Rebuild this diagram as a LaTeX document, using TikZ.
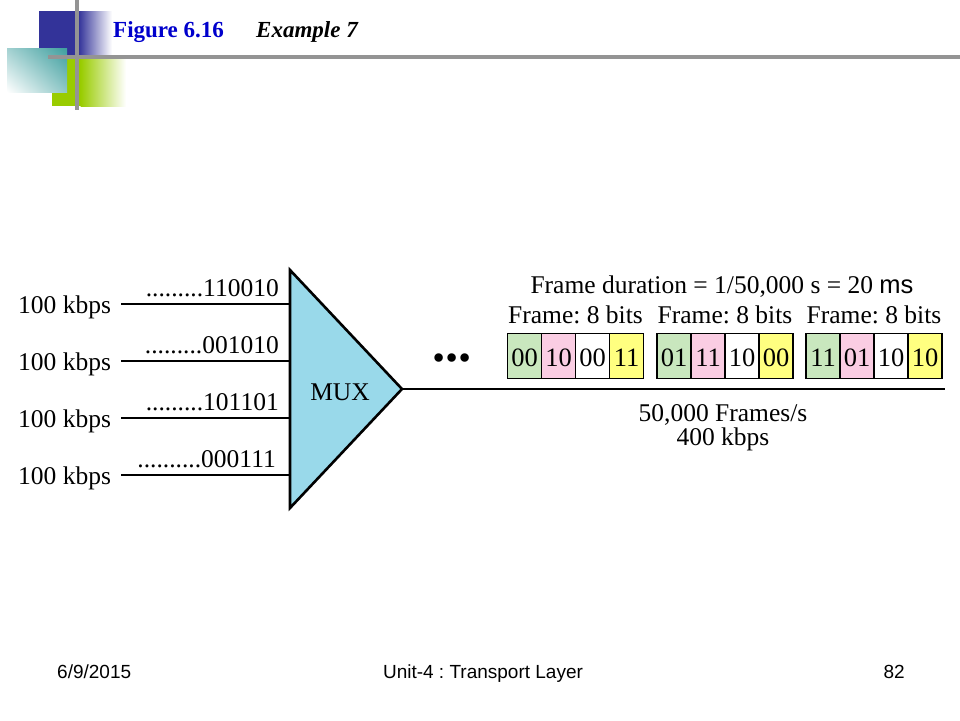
\documentclass[tikz,border=0pt]{standalone}
\usepackage{fontspec}
\usetikzlibrary{shadings}
\setmainfont{Liberation Serif}
\newfontfamily\arialf{Liberation Sans}
\definecolor{deco blue}{HTML}{333399}
\definecolor{deco green}{HTML}{99CC00}
\definecolor{deco teal}{HTML}{339999}
\definecolor{mux blue}{HTML}{99D9EA}
\definecolor{cell green}{HTML}{C9E7BE}
\definecolor{cell pink}{HTML}{FACDE3}
\definecolor{cell yellow}{HTML}{FFFF80}
\definecolor{title blue}{HTML}{0000CC}
\def\dnine{.........}
\def\dten{..........}
\frenchspacing
\begin{document}
\begin{tikzpicture}[x=1pt,y=-1pt,
  lbl/.style={inner sep=0pt,font=\fontsize{25.5}{30}\selectfont},
  wire/.style={line width=2.6pt},
  cellbox/.style={draw,line width=1.3pt,minimum width=34pt,minimum height=45pt,
    inner sep=0pt,text height=21pt,text depth=0pt,font=\fontsize{26.5}{30}\selectfont},
  foot/.style={inner sep=0pt,font=\arialf\fontsize{19}{22}\selectfont},
  decoline/.style={line width=3.5pt,color=black!42}]
\useasboundingbox (0,0) rectangle (960,720);
\fill[white] (0,0) rectangle (960,720);
% ---- decoration top-left ----
\fill[deco blue] (39,11) rectangle (79,55);
\shade[left color=deco blue,right color=white] (78.5,11) rectangle (112,55);
\fill[deco green] (52,57) rectangle (81,106);
\shade[left color=deco green,right color=white] (80.5,57) rectangle (126,106);
\shade[upper left=deco teal!45,upper right=deco teal!95,lower left=white,lower right=deco teal!55] (7,48) rectangle (67,92);
\draw[decoline] (77,0) -- (77,110);
\draw[decoline] (48,57) -- (960,57);
% ---- title ----
\node[inner sep=0pt,anchor=base west,font=\bfseries\fontsize{23}{27}\selectfont,text=title blue] (ttl) at (113,37) {Figure 6.16};
\node[inner sep=0pt,anchor=base west,font=\bfseries\itshape\fontsize{23}{27}\selectfont] (ex) at (256,37) {Example 7};
% ---- MUX ----
\coordinate (tA) at (290,270);
\coordinate (tB) at (290,508);
\coordinate (tC) at (402,389);
\draw[wire,fill=mux blue,line join=miter] (tA) -- (tC) -- (tB) -- cycle;
\node[lbl] (mux) at (340,392) {MUX};
% ---- inputs ----
\foreach \i/\y/\bits/\bx in {1/304/\dnine 110010/279,2/361/\dnine 001010/279,3/418/\dnine 101101/279,4/475/\dten 000111/276}{
  \coordinate (s\i) at (121,\y);
  \coordinate (e\i) at (290,\y);
  \draw[wire] (s\i) -- (e\i);
  \node[lbl,anchor=base west] (r\i) at (18,\y+9) {100 kbps};
  \node[lbl,anchor=base east] (b\i) at (\bx,\y-8) {\bits};
}
% ---- output ----
\coordinate (out) at (945,389);
\draw[wire] (tC) -- (out);
\node[inner sep=0pt,anchor=base,font=\bfseries\itshape\fontsize{52}{52}\selectfont] (dots) at (454,361) {...};
% ---- frames ----
\node[lbl,anchor=base] (dur) at (722,293) {Frame duration = 1/50,000 s = 20 {\arialf ms}};
\foreach \f/\fx/\a/\b/\c/\d in {1/507.5/00/10/00/11,2/657/01/11/10/00,3/806/11/01/10/10}{
  \node[lbl,anchor=base] (fl\f) at (\fx+68,323) {Frame: 8 bits};
  \node[cellbox,fill=cell green]  (c\f a) at (\fx+17,356) {\a};
  \node[cellbox,fill=cell pink]   (c\f b) at (\fx+51,356) {\b};
  \node[cellbox,fill=white]       (c\f c) at (\fx+85,356) {\c};
  \node[cellbox,fill=cell yellow] (c\f d) at (\fx+119,356) {\d};
}
\node[lbl,anchor=base] (fps) at (723,421) {50,000 Frames/s};
\node[lbl,anchor=base] (kbps) at (723,445) {400 kbps};
% ---- footer ----
\node[foot,anchor=base west] (date) at (57,678) {6/9/2015};
\node[foot,anchor=base] (unit) at (483,678) {Unit-4 : Transport Layer};
\node[foot,anchor=base east] (page) at (905,678) {82};
\end{tikzpicture}
\end{document}
